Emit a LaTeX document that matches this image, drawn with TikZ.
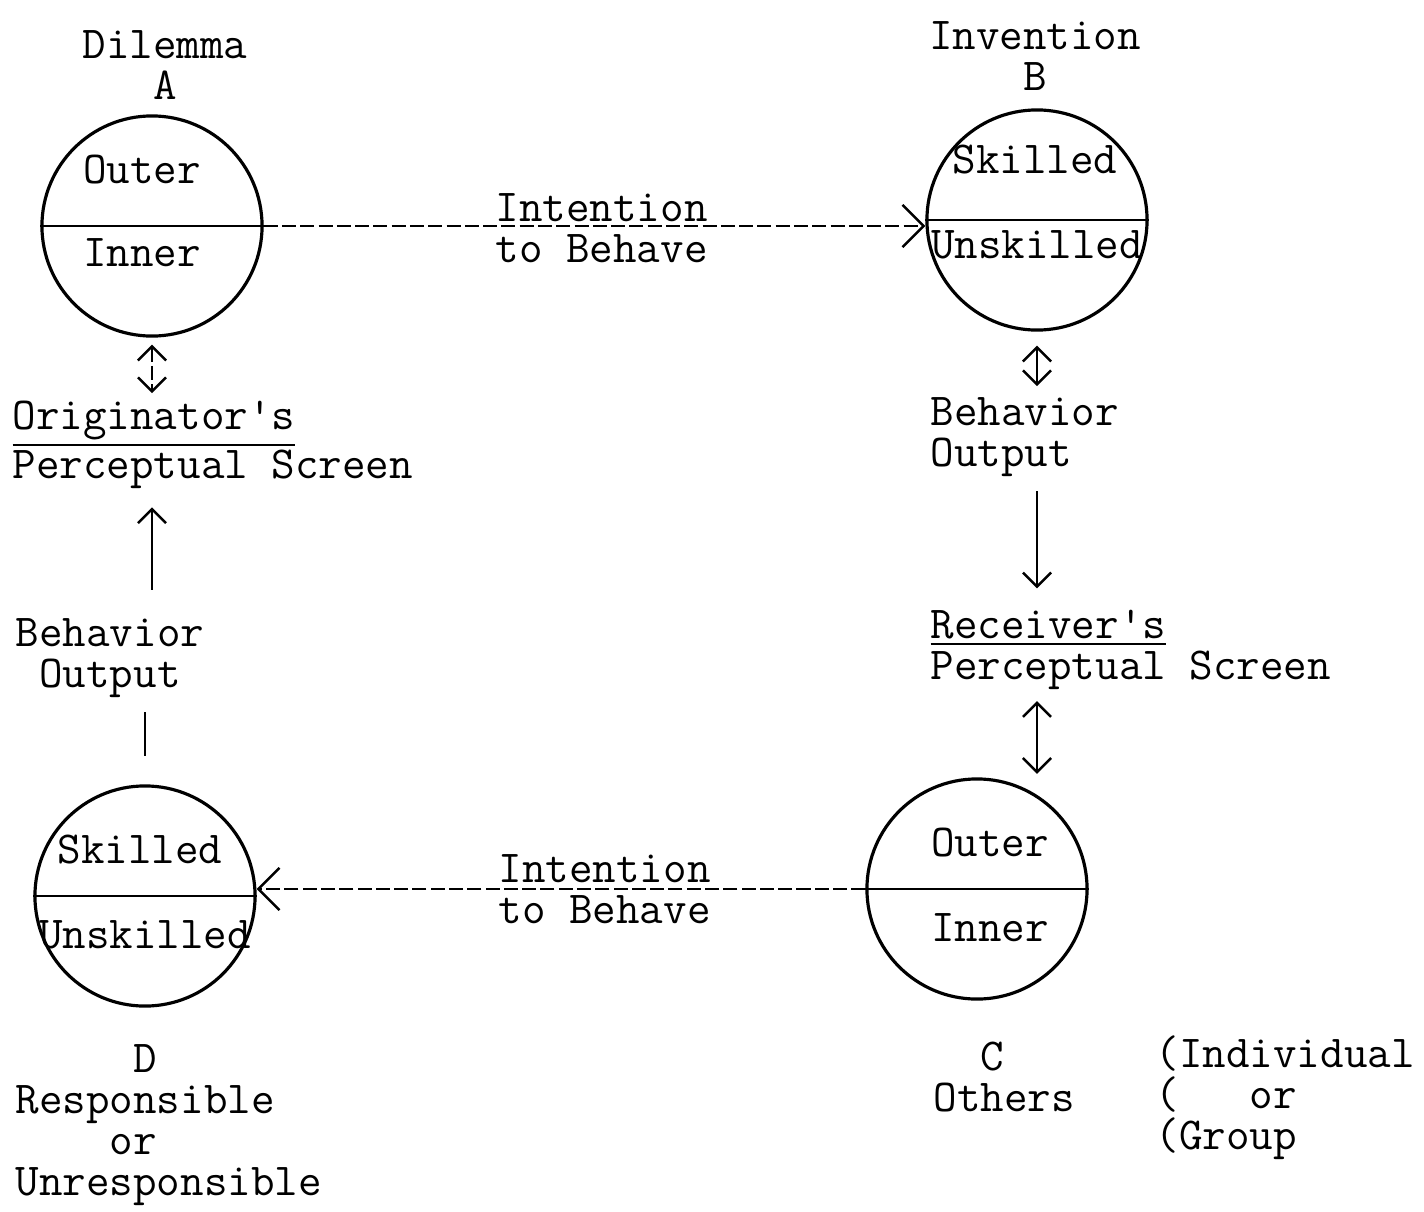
\documentclass[tikz,border=0pt]{standalone}
\usetikzlibrary{arrows.meta}
\begin{document}
\begin{tikzpicture}[x=0.01cm,y=-0.01cm,
  every node/.style={font=\fontsize{13}{11.7}\selectfont\ttfamily,inner sep=0pt},
  disc/.style={circle,draw,line width=0.9pt,minimum size=2.2cm},
  wire/.style={line width=0.7pt},
  typed/.style={dash pattern=on 4pt off 1.2pt},
  bighead/.style={-{Straight Barb[length=6pt,width=12pt]}},
  uphead/.style={-{Straight Barb[length=4pt,width=8pt]}},
  twohead/.style={{Straight Barb[length=4pt,width=8pt]}-{Straight Barb[length=4pt,width=8pt]}}]
\useasboundingbox (0,0) rectangle (1424,1212);

% the four circles
\node[disc] (A) at (152,226) {};
\node[disc] (B) at (1037,220) {};
\node[disc] (C) at (977,889) {};
\node[disc] (D) at (145,896) {};

\draw[wire] (A.west) -- (A.east);
\draw[wire] (B.west) -- (B.east);
\draw[wire] (C.west) -- (C.east);
\draw[wire] (D.west) -- (D.east);

\node (dil) at (165,65) [align=center] {Dilemma\\A};
\node (inv) at (1035,56) [align=center] {Invention\\B};

\node (Aout) at (142,170) {Outer};
\node (Ain) at (142,253) {Inner};
\node (Bsk) at (1035,160) {Skilled};
\node (Bun) at (1037,245) {Unskilled};
\node (Cout) at (990,843) {Outer};
\node (Cin) at (990,928) {Inner};
\node (Dsk) at (140,850) {Skilled};
\node (Dun) at (145,935) {Unskilled};

\node (intAB) at (495,228) [anchor=west,align=left] {Intention\\to Behave};
\node (intCD) at (498,889) [anchor=west,align=left] {Intention\\to Behave};

\node (orig) at (12,445) [anchor=west,align=left] {\underline{Originator's}\\Perceptual Screen};
\node (boL) at (110,658) [align=center] {Behavior\\Output};
\node (boR) at (930,437) [anchor=west,align=left] {Behavior\\Output};
\node (recv) at (930,650) [anchor=west,align=left] {\underline{Receiver's}\\Perceptual Screen};

\node (dlab) at (15,1125) [anchor=west,align=left] {~~~~~D\\Responsible\\~~~~or\\Unresponsible};
\node (clab) at (933,1077) [anchor=west,align=left] {~~C\\Others};
\node (grp) at (1155,1098) [anchor=west,align=left] {(Individual\\(~~~or\\(Group};

% connectors
\draw[wire,typed,bighead] (A.east) -- (A.east -| B.west);
\draw[wire,typed,bighead] (C.west) -- (C.west -| D.east);

\draw[wire,typed,twohead,shorten <=2pt,shorten >=2pt] (A.south) -- (A.south |- orig.north);
\draw[wire,uphead,shorten <=8pt,shorten >=5pt] (A.south |- boL.north) -- (A.south |- orig.south);
\draw[wire,shorten <=4pt,shorten >=8pt] (D.north |- boL.south) -- (D.north);

\draw[wire,twohead,shorten <=4pt,shorten >=3pt] (B.south) -- (B.south |- boR.north);
\draw[wire,uphead,shorten <=4pt,shorten >=6pt] (B.south |- boR.south) -- (B.south |- recv.north);
\draw[wire,twohead,shorten <=3pt,shorten >=1pt] (B.south |- recv.south) -- (B.south |- C.north);

\end{tikzpicture}
\end{document}
